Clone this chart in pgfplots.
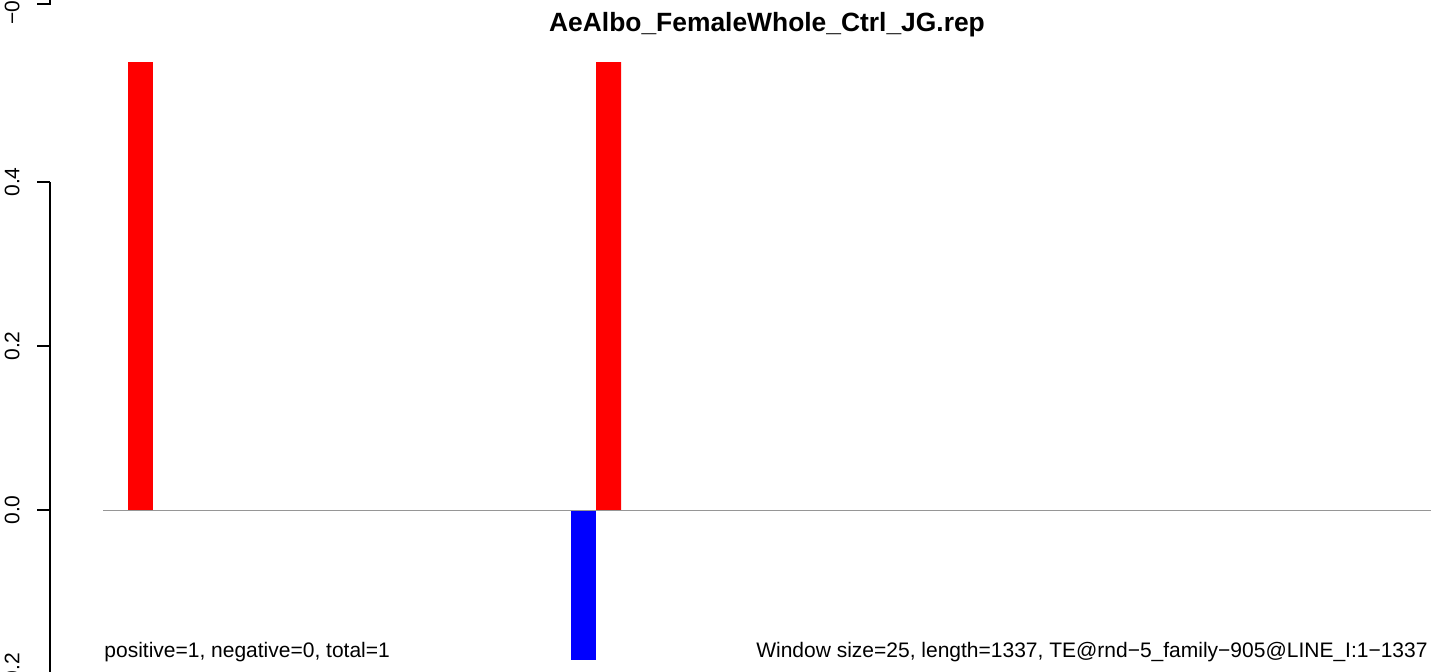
\documentclass[border=0pt]{standalone}
\usepackage{fontspec}
\setmainfont{Liberation Sans}
\usepackage{pgfplots}
\pgfplotsset{compat=1.18}

% one unit = one pixel of the 1444x671 reference (0.5pt)
\begin{document}
\fontsize{10.5}{12}\selectfont
\begin{tikzpicture}[x=0.5pt, y=0.5pt]
\path[use as bounding box, clip] (0,0) rectangle (1444,671);

\begin{axis}[
  at={(25pt,-1.5pt)}, anchor=south west,
  scale only axis, width=697pt, height=246pt,
  xmin=-53.4, xmax=1350.1, ymin=-0.2, ymax=0.4,
  clip=false,
  axis x line=none, axis y line*=left,
  axis line style={-, line width=0.75pt},
  ytick={-0.2,0,0.2,0.4},
  yticklabels={−0.2,0.0,0.2,0.4},
  tick align=outside, major tick length=6.5pt,
  tick style={line width=0.75pt, black},
  yticklabel shift=5pt,
  yticklabel style={rotate=90, anchor=south, font=\fontsize{10.5}{12}\selectfont},
]
\addplot[ybar, bar width=25, fill=red, draw=none] coordinates {(37.7,0.5463) (509,0.5463)};
\addplot[ybar, bar width=25, fill=blue, draw=none] coordinates {(483.8,-0.183)};
\addplot[line width=0.5pt, color={rgb,255:red,150;green,150;blue,150}] coordinates {(0,0) (1337,0)};
\end{axis}

% fragment of the panel above
\draw[line width=0.75pt] (50,673) -- (50,667) -- (37,667);
\node[rotate=90, anchor=south, inner sep=0pt] at (20,667) {−0.2};

\node[anchor=base, font=\fontsize{13.2}{15}\selectfont\bfseries] at (767,639) {AeAlbo\_FemaleWhole\_Ctrl\_JG.rep};
\node[anchor=base west, inner sep=0pt] at (104,14) {positive=1, negative=0, total=1};
\node[anchor=base east, inner sep=0pt] at (1428,14) {Window size=25, length=1337, TE@rnd−5\_family−905@LINE\_I:1−1337};
\end{tikzpicture}
\end{document}
